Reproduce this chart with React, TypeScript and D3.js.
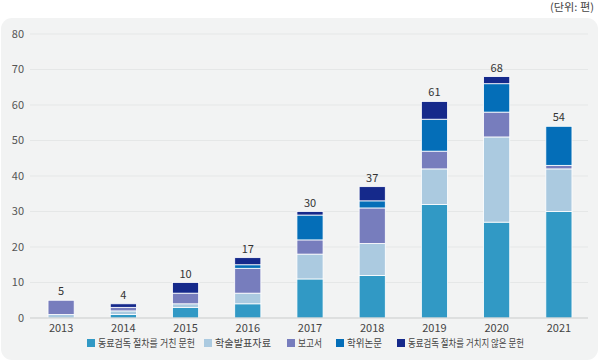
import React from "react";
import * as d3 from "d3";

const years = ["2013", "2014", "2015", "2016", "2017", "2018", "2019", "2020", "2021"];
const seriesNames = ["동료검독 절차를 거친 문헌", "학술발표자료", "보고서", "학위논문", "동료검독 절차를 거치지 않은 문헌"];
const peer = [0, 1, 3, 4, 11, 12, 32, 27, 30];
const conf = [1, 1, 1, 3, 7, 9, 10, 24, 12];
const report = [4, 1, 3, 7, 4, 10, 5, 7, 1];
const thesis = [0, 0, 0, 1, 7, 2, 9, 8, 11];
const nonPeer = [0, 1, 3, 2, 1, 4, 5, 2, 0];
const yTicks = [0, 10, 20, 30, 40, 50, 60, 70, 80];
const colors = ["#3199c5", "#abcae0", "#777dbd", "#046eb8", "#15298b"];

const W = 600, H = 364;
const font = "'Noto Sans CJK KR', 'Noto Sans', sans-serif";

export default function App() {
  const seriesData = [peer, conf, report, thesis, nonPeer];
  const rows = years.map((y, i) => {
    const r: any = { year: y };
    seriesNames.forEach((n, k) => (r[n] = seriesData[k][i]));
    return r;
  });
  const stacked = d3.stack<any>().keys(seriesNames)(rows);
  const totals = years.map((_, i) => seriesData.reduce((s, a) => s + a[i], 0));

  const x = d3.scaleBand().domain(years).range([30, 590]).paddingInner(0.58).paddingOuter(0.29);
  const y = d3.scaleLinear().domain([0, 80]).range([318, 34]);

  const legendX = [87, 204, 287, 336, 397];
  const legendW = [97, 56, 24, 35, 116];

  return (
    <svg width={W} height={H} style={{ position: "absolute", left: 0, top: 0 }} fontFamily={font}>
      <rect x={1} y={18} width={597} height={342} rx={11} fill="#f2f3f3" />
      <text x={594} y={11} textAnchor="end" fontSize={10.5} fill="#444" textLength={44} lengthAdjust="spacingAndGlyphs">(단위: 편)</text>
      {yTicks.map(t => (
        <g key={t}>
          {t > 0 && <line x1={30} x2={588} y1={y(t)} y2={y(t)} stroke="#e5e7e7" strokeWidth={1} />}
          <text x={24} y={y(t)} dy="0.35em" textAnchor="end" fontSize={11} fill="#555">{t}</text>
        </g>
      ))}
      {stacked.map((s, k) => (
        <g key={k} fill={colors[k]}>
          {s.map((d, i) => d[1] - d[0] > 0 ? (
            <rect key={i} x={x(years[i])!} width={x.bandwidth()} y={y(d[1])} height={y(d[0]) - y(d[1])}
              stroke="#ffffff" strokeWidth={0.8} />
          ) : null)}
        </g>
      ))}
      <line x1={30} x2={588} y1={318} y2={318} stroke="#c9cbcb" strokeWidth={1} />
      {years.map((yr, i) => (
        <g key={yr}>
          <text x={x(yr)! + x.bandwidth() / 2} y={332} textAnchor="middle" fontSize={11} fill="#444">{yr}</text>
          <text x={x(yr)! + x.bandwidth() / 2} y={y(totals[i]) - 5} textAnchor="middle" fontSize={11} fill="#333">{totals[i]}</text>
        </g>
      ))}
      {seriesNames.map((n, k) => (
        <g key={n}>
          <rect x={legendX[k]} y={339} width={8} height={8} fill={colors[k]} />
          <text x={legendX[k] + 11} y={343} dy="0.35em" fontSize={10.5} fill="#444"
            textLength={legendW[k]} lengthAdjust="spacingAndGlyphs">{n}</text>
        </g>
      ))}
    </svg>
  );
}
